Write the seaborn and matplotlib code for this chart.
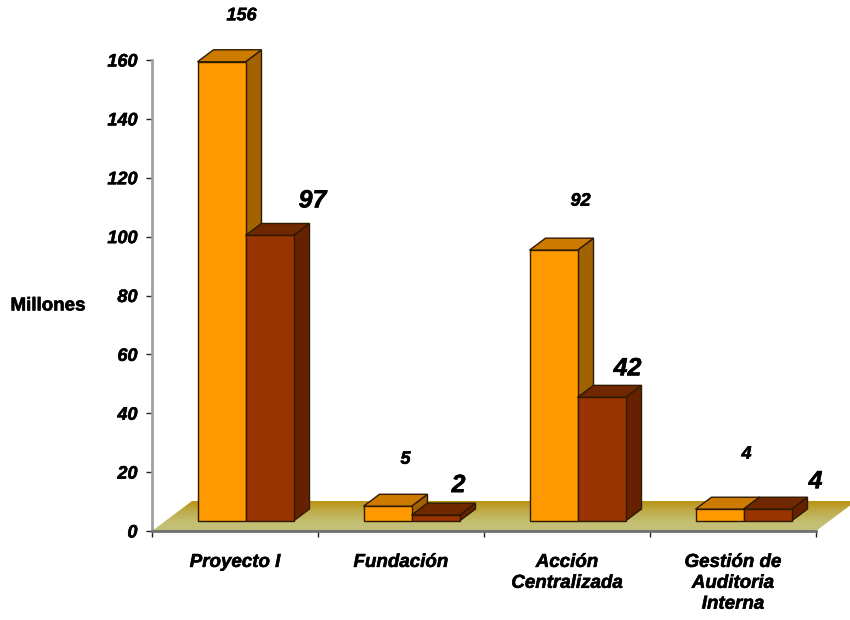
import numpy as np
import pandas as pd
import matplotlib
matplotlib.use("Agg")
import matplotlib.pyplot as plt
import matplotlib.patheffects as pe
from matplotlib.colors import LinearSegmentedColormap
from matplotlib.patches import Polygon
import seaborn as sns

categories = ["Proyecto I", "Fundación", "Acción\nCentralizada", "Gestión de\nAuditoria\nInterna"]
series_names = ["Serie A", "Serie B"]
serie_a = [156, 5, 92, 4]
serie_b = [97, 2, 42, 4]
y_ticks = [0, 20, 40, 60, 80, 100, 120, 140, 160]

FACE = ["#FF9900", "#993300"]
TOP = ["#CC7A00", "#702800"]
SIDE = ["#A36200", "#662200"]
EDGE = "#2E1A00"

sns.set_style("white")
plt.rcParams["font.family"] = ["Liberation Sans"]
plt.rcParams["font.weight"] = "bold"
plt.rcParams["font.style"] = "italic"
plt.rcParams["text.color"] = "black"
plt.rcParams["xtick.labelcolor"] = "black"
plt.rcParams["ytick.labelcolor"] = "black"

W, H = 850, 620
fig = plt.figure(figsize=(W / 100, H / 100), dpi=100)
ax = fig.add_axes([152 / W, 1 - 531 / H, 664 / W, 471 / H])

df = pd.DataFrame({
    "categoria": categories * 2,
    "serie": np.repeat(series_names, 4),
    "valor": serie_a + serie_b,
})

# Oblique projection: constants for the depth of bars and of the floor
PX_X = 4 / 664
PX_Y = 160 / 471
BASE = 10 * PX_Y
BAR_DX, BAR_DY = 16 * PX_X, 12 * PX_Y
FLOOR_DX, FLOOR_DY = 40 * PX_X, 30 * PX_Y
SHIFT = 10.5 * PX_X

sns.barplot(
    data=df, x="categoria", y="valor", hue="serie", order=categories,
    hue_order=series_names, palette=FACE, width=96 * PX_X, gap=0,
    errorbar=None, legend=False, ax=ax, bottom=BASE, saturation=1,
    edgecolor=EDGE, linewidth=1.0,
)

# Extrude every front face with a top and a side parallelogram
for s, container in enumerate(ax.containers):
    for bar in container:
        bar.set_x(bar.get_x() + SHIFT)
        bar.set_zorder(3.5 + s)
        bar.set_clip_on(False)
        x0, x1 = bar.get_x(), bar.get_x() + bar.get_width()
        y0, y1 = bar.get_y(), bar.get_y() + bar.get_height()
        top = [(x0, y1), (x1, y1), (x1 + BAR_DX, y1 + BAR_DY), (x0 + BAR_DX, y1 + BAR_DY)]
        side = [(x1, y0), (x1, y1), (x1 + BAR_DX, y1 + BAR_DY), (x1 + BAR_DX, y0 + BAR_DY)]
        ax.add_patch(Polygon(side, closed=True, fc=SIDE[s], ec=EDGE, lw=1.0, zorder=3 + s, clip_on=False))
        ax.add_patch(Polygon(top, closed=True, fc=TOP[s], ec=EDGE, lw=1.0, zorder=3 + s, clip_on=False))

# Floor of the chart, a gradient clipped to a parallelogram
floor_cmap = LinearSegmentedColormap.from_list(
    "piso", [(0.0, "#BB9414"), (0.35, "#BFAC4C"), (0.7, "#C3BF72"), (1.0, "#C4C07A")]
)
floor = Polygon(
    [(-0.5, 0), (3.5, 0), (3.5 + FLOOR_DX, FLOOR_DY), (-0.5 + FLOOR_DX, FLOOR_DY)],
    closed=True, transform=ax.transData, fc="none", ec="none",
)
ax.add_patch(floor)
im = ax.imshow(
    np.linspace(0, 1, 64).reshape(-1, 1), cmap=floor_cmap, aspect="auto", origin="upper",
    extent=[-0.5, 3.5 + FLOOR_DX, 0, FLOOR_DY], zorder=1,
)
im.set_clip_box(fig.bbox)
im.set_clip_path(floor)

ax.set_xlim(-0.5, 3.5)
ax.set_ylim(0, 160)
ax.set_xlabel("")
ax.set_ylabel("")

# Group boundaries carry the tick marks, group centres carry the labels
ax.set_xticks(np.arange(-0.5, 4.0, 1.0))
ax.set_xticklabels([])
ax.set_xticks(np.arange(4), labels=categories, minor=True)
ax.tick_params(axis="x", which="major", length=4.5, width=1, color="#222222", bottom=True)
ax.tick_params(axis="x", which="minor", length=0, pad=16.5, labelsize=13.5)
ax.set_yticks(y_ticks)
ax.tick_params(axis="y", length=4.5, width=1, color="#222222", left=True, pad=6, labelsize=13)
heavy = [pe.withStroke(linewidth=0.4, foreground="black")]
for lab in ax.get_xticklabels(minor=True):
    lab.set_linespacing(1.3)
    lab.set_path_effects(heavy)
for lab in ax.get_yticklabels():
    lab.set_path_effects(heavy)

sns.despine(ax=ax)
ax.spines["left"].set_color("#A0A0A0")
ax.spines["bottom"].set_color("#707070")
for name in ("left", "bottom"):
    ax.spines[name].set_linewidth(2)
    ax.spines[name].set_zorder(2)

# Value labels: the second series is set larger, as on the source slide
label_offsets = [
    [(20, 46), (18, 47), (27, 49), (27, 55)],
    [(43, 35), (23, 30), (26, 29), (48, 28)],
]
label_sizes = [13, 18]
for s, (container, values) in enumerate(zip(ax.containers, [serie_a, serie_b])):
    for bar, value, off in zip(container, values, label_offsets[s]):
        ax.annotate(
            str(value),
            (bar.get_x() + bar.get_width() / 2, BASE + value),
            xytext=off, textcoords="offset pixels",
            ha="center", va="center", fontsize=label_sizes[s],
            annotation_clip=False, zorder=6, path_effects=heavy,
        )

fig.text(48 / W, 1 - 306 / H, "Millones", ha="center", va="center", fontsize=13.5,
         style="normal", path_effects=heavy)

fig.savefig("out.png", dpi=100, facecolor="white")
